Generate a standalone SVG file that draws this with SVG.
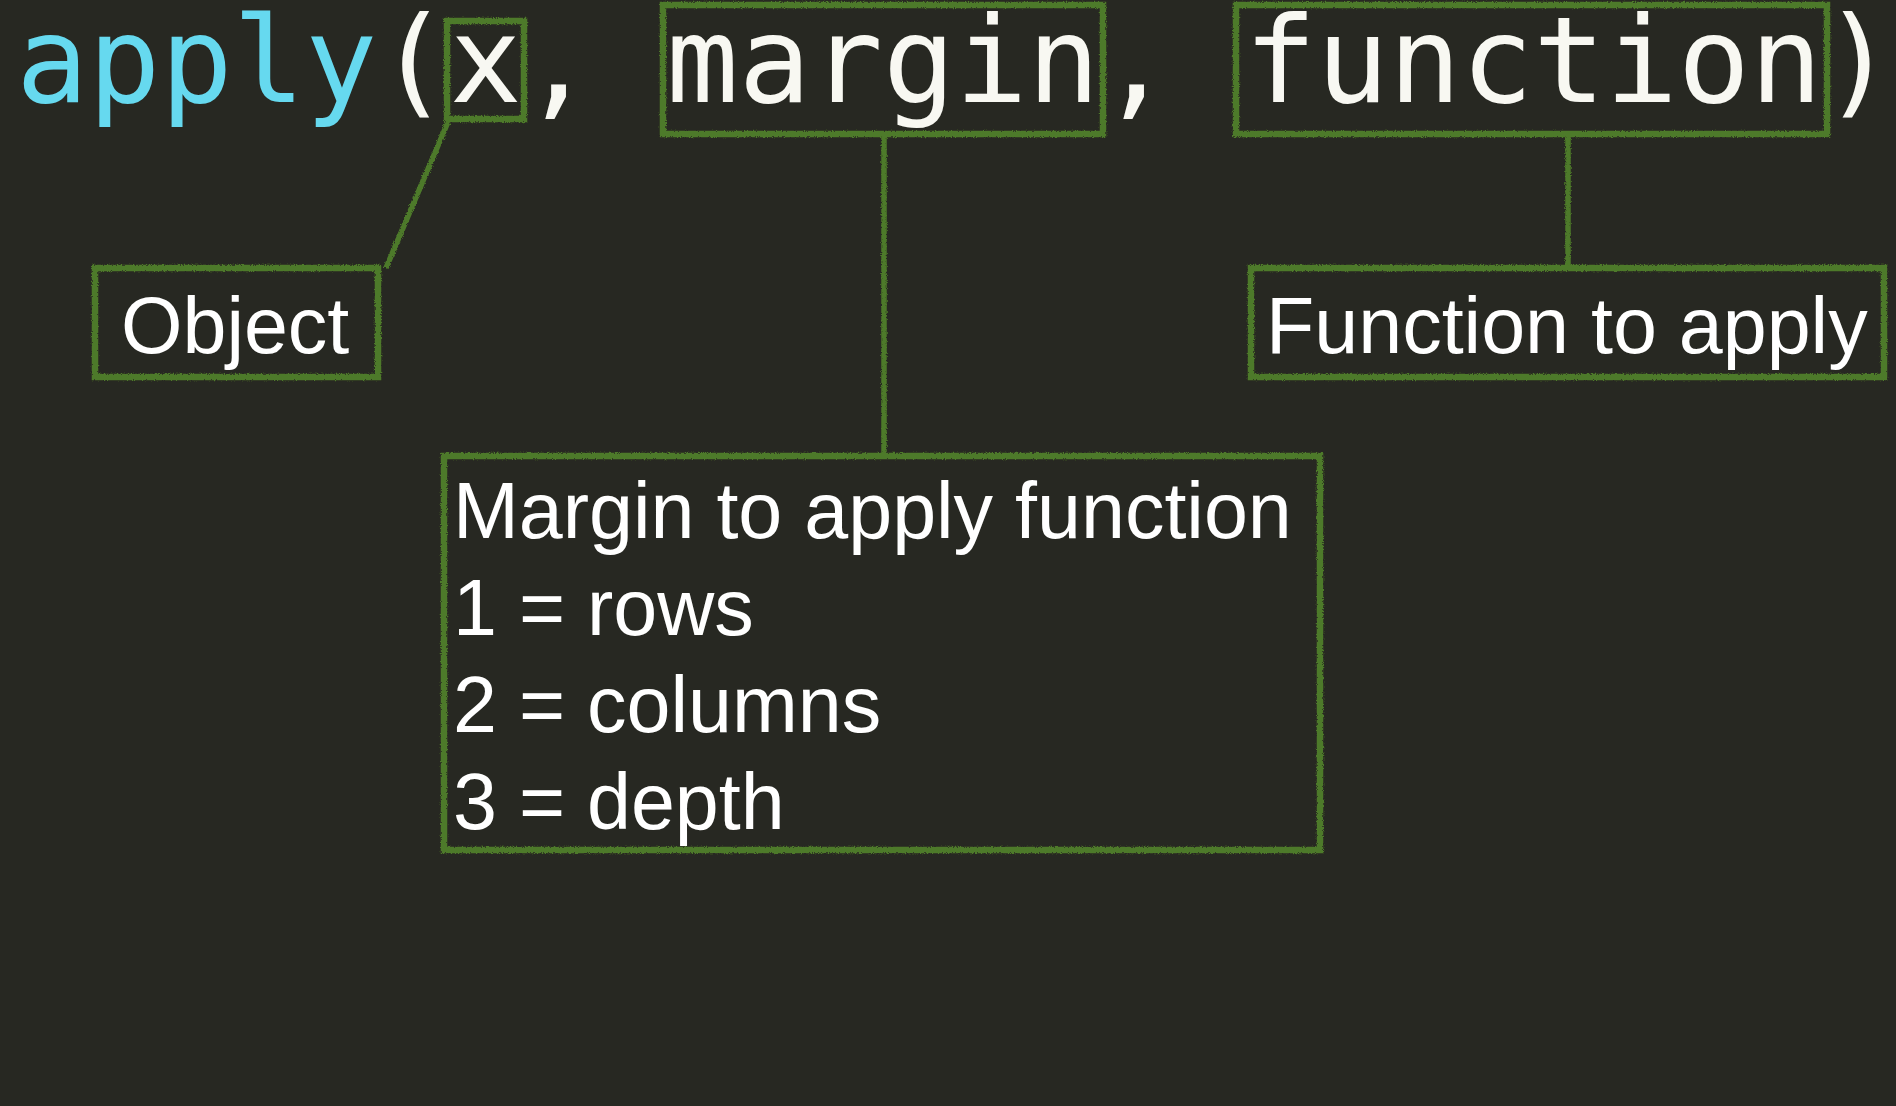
<svg xmlns="http://www.w3.org/2000/svg" width="1896" height="1106" viewBox="0 0 1896 1106">
  <defs>
    <filter id="chalk" filterUnits="userSpaceOnUse" x="0" y="0" width="1896" height="1106">
      <feTurbulence type="fractalNoise" baseFrequency="0.9" numOctaves="2" seed="3" result="n"/>
      <feDisplacementMap in="SourceGraphic" in2="n" scale="3.5" xChannelSelector="R" yChannelSelector="G"/>
    </filter>
  </defs>
  <style>
    .box { fill: none; stroke: #4d7a2a; stroke-width: 6.5; filter: url(#chalk); }
    .conn { fill: none; stroke: #4d7a2a; stroke-width: 5.5; filter: url(#chalk); }
    .code { font-family: "DejaVu Sans Mono", monospace; font-size: 120px; fill: #f8f8f2; }
    .fn { fill: #66d9ef; }
    .label { font-family: "Liberation Sans", Arial, sans-serif; font-size: 79px; fill: #ffffff; }
  </style>
  <rect x="0" y="0" width="1896" height="1106" fill="#272822"/>

  <g id="code">
    <text class="code" x="16" y="102"><tspan class="fn">apply</tspan>(x, margin, function)</text>
  </g>

  <g id="connectors">
    <line class="conn" x1="448" y1="122" x2="386" y2="268"/>
    <line class="conn" x1="884" y1="134" x2="884" y2="456"/>
    <line class="conn" x1="1568" y1="134" x2="1568" y2="268"/>
  </g>

  <g id="arg-x">
    <rect class="box" x="447" y="21" width="77" height="98"/>
  </g>
  <g id="arg-margin">
    <rect class="box" x="663" y="5" width="440" height="129"/>
  </g>
  <g id="arg-function">
    <rect class="box" x="1236" y="5" width="591" height="129"/>
  </g>

  <g id="node-object">
    <rect class="box" x="95" y="268" width="283" height="109"/>
    <text class="label" x="121" y="353">Object</text>
  </g>

  <g id="node-function">
    <rect class="box" x="1251" y="268" width="633" height="109"/>
    <text class="label" x="1266" y="353">Function to apply</text>
  </g>

  <g id="node-margin">
    <rect class="box" x="444" y="456" width="876" height="394"/>
    <text class="label" x="453" y="538">Margin to apply function</text>
    <text class="label" x="453" y="635">1 = rows</text>
    <text class="label" x="453" y="732">2 = columns</text>
    <text class="label" x="453" y="829">3 = depth</text>
  </g>
</svg>
